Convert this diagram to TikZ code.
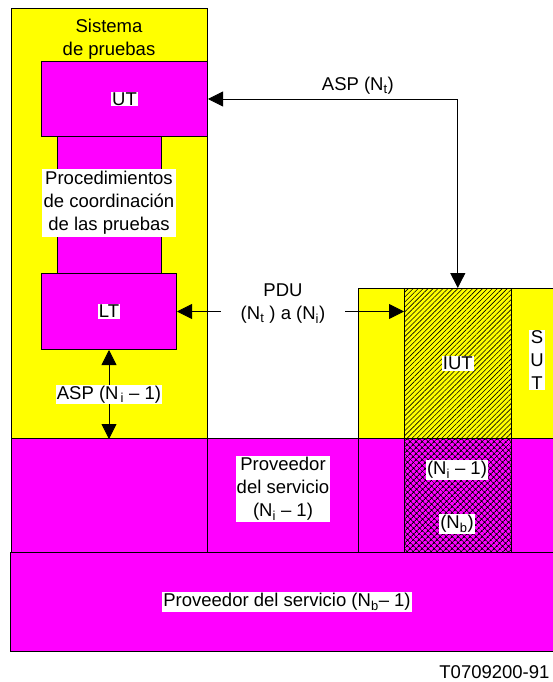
\documentclass[tikz,border=0pt]{standalone}
\usepackage{fontspec}
\setmainfont{Liberation Sans}
\usetikzlibrary{arrows.meta,positioning,patterns.meta}
\definecolor{sysyellow}{HTML}{FFFF00}
\definecolor{sysmagenta}{HTML}{FF00FF}

\begin{document}
\begin{tikzpicture}[
  x=1pt, y=-1pt,
  font=\fontsize{18.5}{23}\selectfont,
  block/.style={rectangle, draw=black, line width=1pt, fill=#1, inner sep=0pt,
                anchor=north west},
  tag/.style={fill=white, inner sep=1pt, align=center},
  flow/.style={-{Triangle[length=15pt,width=15pt]}, line width=0.8pt},
  flowboth/.style={{Triangle[length=15pt,width=15pt]}-{Triangle[length=15pt,width=15pt]}, line width=0.8pt},
]
\useasboundingbox (0,0) rectangle (553,682);

% Sistema de pruebas
\node[block=sysyellow, minimum width=196pt, minimum height=430pt] (ts) at (11,8) {};
\node[align=center] (tstitle) at (109,39) {Sistema\\de pruebas};
\node[block=sysmagenta, minimum width=104pt, minimum height=137pt] (tcp) at (57,136) {};
\node[tag, inner xsep=2pt, inner ysep=2pt] (tcptext) at (109,203)
  {Procedimientos\\de coordinación\\de las pruebas};
\node[block=sysmagenta, minimum width=166pt, minimum height=75pt] (ut) at (41,61) {};
\node[tag] (uttext) at (ut.center) {UT};
\node[block=sysmagenta, minimum width=135pt, minimum height=76pt] (lt) at (41,273) {};
\node[tag] (lttext) at (lt.center) {LT};

% SUT
\node[block=sysyellow, minimum width=200pt, minimum height=150pt] (sut) at (358,288) {};
\node[block=sysyellow, minimum width=107pt, minimum height=150pt] (iutbg) at (404,288) {};
\node[block=sysyellow, minimum width=107pt, minimum height=150pt,
      pattern={Lines[angle=45,distance=3.5pt,line width=0.6pt]}] (iut) at (404,288) {};
\node[tag] (iuttext) at (iut.center) {IUT};
\node[tag] (suttext) at (537,360) {S\\U\\T};

% Capa (Ni - 1)
\node[block=sysmagenta, minimum width=196pt, minimum height=114pt] (layl) at (11,438) {};
\node[block=sysmagenta, minimum width=151pt, minimum height=114pt] (laym) at (207,438) {};
\node[tag] (provi) at (283,489) {Proveedor\\del servicio\\(N\textsubscript{i} – 1)};
\node[block=sysmagenta, minimum width=200pt, minimum height=114pt] (layr) at (358,438) {};
\node[block=sysmagenta, minimum width=107pt, minimum height=114pt] (ntbg) at (404,438) {};
\node[block=sysmagenta, minimum width=107pt, minimum height=114pt,
      pattern={Hatch[angle=45,distance=4pt,line width=1pt]}] (nb) at (404,438) {};
\node[tag] (nitext) at (457,470) {(N\textsubscript{i} – 1)};
\node[tag] (nbtext) at (457,524) {(N\textsubscript{b})};

% Proveedor (Nb - 1)
\node[block=sysmagenta, minimum width=547pt, minimum height=99pt] (layb) at (10,552) {};
\node[tag] (provb) at (layb.center -| 287,0) {Proveedor del servicio (N\textsubscript{b}– 1)};

% Flechas
\draw[flowboth] (ut.east) -| (iut.north)
  node[pos=0.3, above=1pt] (aspt) {ASP (N\textsubscript{t})};
\node[align=center, inner xsep=20pt, inner ysep=0pt] (pdu) at (283,304)
  {PDU\\(N\textsubscript{t} ) a (N\textsubscript{i})};
\draw[flow] (pdu.west |- lt.east) -- (lt.east);
\draw[flow] (pdu.east |- lt.east) -- (iut.west |- lt.east);
\draw[flowboth] (lt.south) -- (lt.south |- ts.south)
  node[midway, tag] (aspi) {ASP (N\textsubscript{\,i} – 1)};

\node[anchor=east] (ref) at (553,672) {T0709200-91};
\end{tikzpicture}
\end{document}
